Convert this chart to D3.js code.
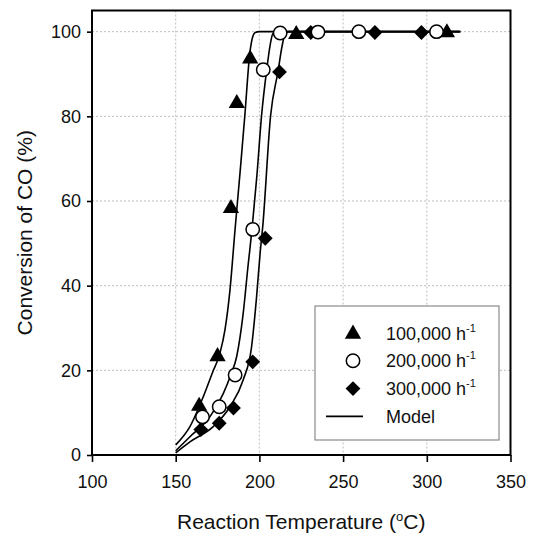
<!DOCTYPE html>
<html>
<head>
<meta charset="utf-8">
<script src="https://cdn.jsdelivr.net/npm/d3@7"></script>
<style>
  html, body { margin: 0; padding: 0; background: #fff; }
  svg { display: block; font-family: "Liberation Sans", Arial, sans-serif; }
</style>
</head>
<body>
<svg id="chart" width="536" height="536"></svg>
<script>
// Measured conversion points [temperature °C, conversion %]
const gas100k = [[164, 11.8], [175, 23.5], [183, 58.5], [186.5, 83.3], [194.5, 93.8], [222, 99.6], [312, 100]];
const gas200k = [[166, 9], [176, 11.4], [185.5, 18.9], [196, 53.3], [202.3, 91], [212.4, 99.7], [235, 99.9], [259.4, 100], [305.8, 100]];
const gas300k = [[165, 6], [176, 7.5], [184.5, 11.1], [196, 22], [203.5, 51.2], [212, 90.5], [230.7, 99.8], [269, 99.8], [296.8, 99.8]];

// Model curves (points along each fitted curve)
const model100k = [[150, 2.4], [158.5, 6.7], [166.5, 13.8], [172, 19.5], [176.4, 24], [179.4, 29.5], [182.4, 38.9], [185.4, 53], [188.5, 67], [191.3, 80.2], [194.3, 95], [196, 98.8], [197.5, 99.8], [200, 100], [320, 100]];
const model200k = [[150, 1.0], [158.5, 4.3], [170.4, 9], [178.4, 14.5], [183, 19], [186.4, 23.2], [190.3, 33.4], [193.3, 45], [195.5, 53], [198.5, 66], [201.3, 80.2], [204.3, 90.8], [206.5, 97], [208, 99.5], [210.5, 100], [320, 100]];
const model300k = [[150, 0.5], [158.5, 3.1], [172.4, 6.7], [182.4, 11.4], [190.3, 17.7], [195.3, 25.5], [198.3, 37.3], [200.5, 48], [202, 54], [206.7, 80.2], [211.2, 90.8], [213.5, 96.5], [215, 99], [217.5, 100], [320, 100]];

const xTicks = [100, 150, 200, 250, 300, 350];
const yTicks = [0, 20, 40, 60, 80, 100];
const xGrid = [150, 200, 250, 300];
const yGrid = [20, 40, 60, 80, 100];

const legendItems = [
  { shape: "triangle", label: "100,000 h", sup: "-1" },
  { shape: "circle", label: "200,000 h", sup: "-1" },
  { shape: "diamond", label: "300,000 h", sup: "-1" },
  { shape: "line", label: "Model", sup: "" }
];

const svg = d3.select("#chart");
const plotLeft = 92, plotRight = 510.5, plotTop = 10.5, plotBottom = 455;

const x = d3.scaleLinear().domain([100, 350]).range([plotLeft, plotRight]);
const y = d3.scaleLinear().domain([0, 105]).range([plotBottom, plotTop]);

// Dotted grid
const grid = svg.append("g").attr("stroke", "#bdbdbd").attr("stroke-width", 1).attr("stroke-dasharray", "2,2");
grid.selectAll("line.gx").data(xGrid).join("line")
  .attr("x1", d => x(d)).attr("x2", d => x(d)).attr("y1", plotTop).attr("y2", plotBottom);
grid.selectAll("line.gy").data(yGrid).join("line")
  .attr("x1", plotLeft).attr("x2", plotRight).attr("y1", d => y(d)).attr("y2", d => y(d));

// Axes
const xAxis = svg.append("g").attr("transform", `translate(0,${plotBottom})`)
  .call(d3.axisBottom(x).tickValues(xTicks).tickSize(7).tickPadding(13).tickFormat(d3.format("d")));
const yAxis = svg.append("g").attr("transform", `translate(${plotLeft},0)`)
  .call(d3.axisLeft(y).tickValues(yTicks).tickSize(5).tickPadding(6).tickFormat(d3.format("d")));
[xAxis, yAxis].forEach(a => {
  a.select(".domain").remove();
  a.selectAll("line").attr("stroke", "#000").attr("stroke-width", 1.6);
  a.selectAll("text").attr("font-size", 18).attr("fill", "#111")
    .attr("font-family", "'Liberation Sans', Arial, sans-serif");
});

// Plot frame
svg.append("rect").attr("x", plotLeft).attr("y", plotTop).attr("width", plotRight - plotLeft).attr("height", plotBottom - plotTop)
  .attr("fill", "none").attr("stroke", "#000").attr("stroke-width", 2);

// Model curves
const line = d3.line().x(d => x(d[0])).y(d => y(d[1])).curve(d3.curveMonotoneX);
[model100k, model200k, model300k].forEach(m => {
  svg.append("path").datum(m).attr("d", line)
    .attr("fill", "none").attr("stroke", "#000").attr("stroke-width", 1.6);
});

// Markers
const sym = {
  triangle: d3.symbol().type(d3.symbolTriangle).size(115),
  diamond: d3.symbol().type(d3.symbolSquare).size(110)
};
function drawMarker(g, shape, cx, cy) {
  if (shape === "circle") {
    g.append("circle").attr("cx", cx).attr("cy", cy).attr("r", 6.7)
      .attr("fill", "#fff").attr("stroke", "#000").attr("stroke-width", 1.5);
  } else if (shape === "triangle") {
    g.append("path").attr("d", sym.triangle()).attr("transform", `translate(${cx},${cy + 1})`).attr("fill", "#000");
  } else if (shape === "diamond") {
    g.append("path").attr("d", sym.diamond()).attr("transform", `translate(${cx},${cy}) rotate(45)`).attr("fill", "#000");
  }
}
const marks = svg.append("g");
gas100k.forEach(d => drawMarker(marks, "triangle", x(d[0]), y(d[1])));
gas300k.forEach(d => drawMarker(marks, "diamond", x(d[0]), y(d[1])));
gas200k.forEach(d => drawMarker(marks, "circle", x(d[0]), y(d[1])));

// Legend
const lg = svg.append("g");
lg.append("rect").attr("x", 315).attr("y", 306).attr("width", 184).attr("height", 134)
  .attr("fill", "#fff").attr("stroke", "#8a8a8a").attr("stroke-width", 1.2);
legendItems.forEach((it, i) => {
  const cy = 333 + i * 27.8;
  if (it.shape === "line") {
    lg.append("line").attr("x1", 326).attr("x2", 363).attr("y1", cy).attr("y2", cy)
      .attr("stroke", "#000").attr("stroke-width", 1.6);
  } else {
    drawMarker(lg, it.shape, 353, cy);
  }
  const t = lg.append("text").attr("x", 386).attr("y", cy + 6.5)
    .attr("font-size", 18).attr("fill", "#111").text(it.label);
  if (it.sup) {
    t.append("tspan").attr("font-size", 11).attr("dy", -8).text(it.sup);
  }
});

// Axis titles
const xt = svg.append("text").attr("x", (plotLeft + plotRight) / 2).attr("y", 529)
  .attr("text-anchor", "middle").attr("font-size", 21).attr("fill", "#111")
  .text("Reaction Temperature (");
xt.append("tspan").attr("font-size", 13).attr("dy", -8).text("o");
xt.append("tspan").attr("dy", 8).text("C)");

svg.append("text").attr("transform", `translate(32,${(plotTop + plotBottom) / 2}) rotate(-90)`)
  .attr("text-anchor", "middle").attr("font-size", 21).attr("fill", "#111")
  .text("Conversion of CO (%)");
</script>
</body>
</html>
